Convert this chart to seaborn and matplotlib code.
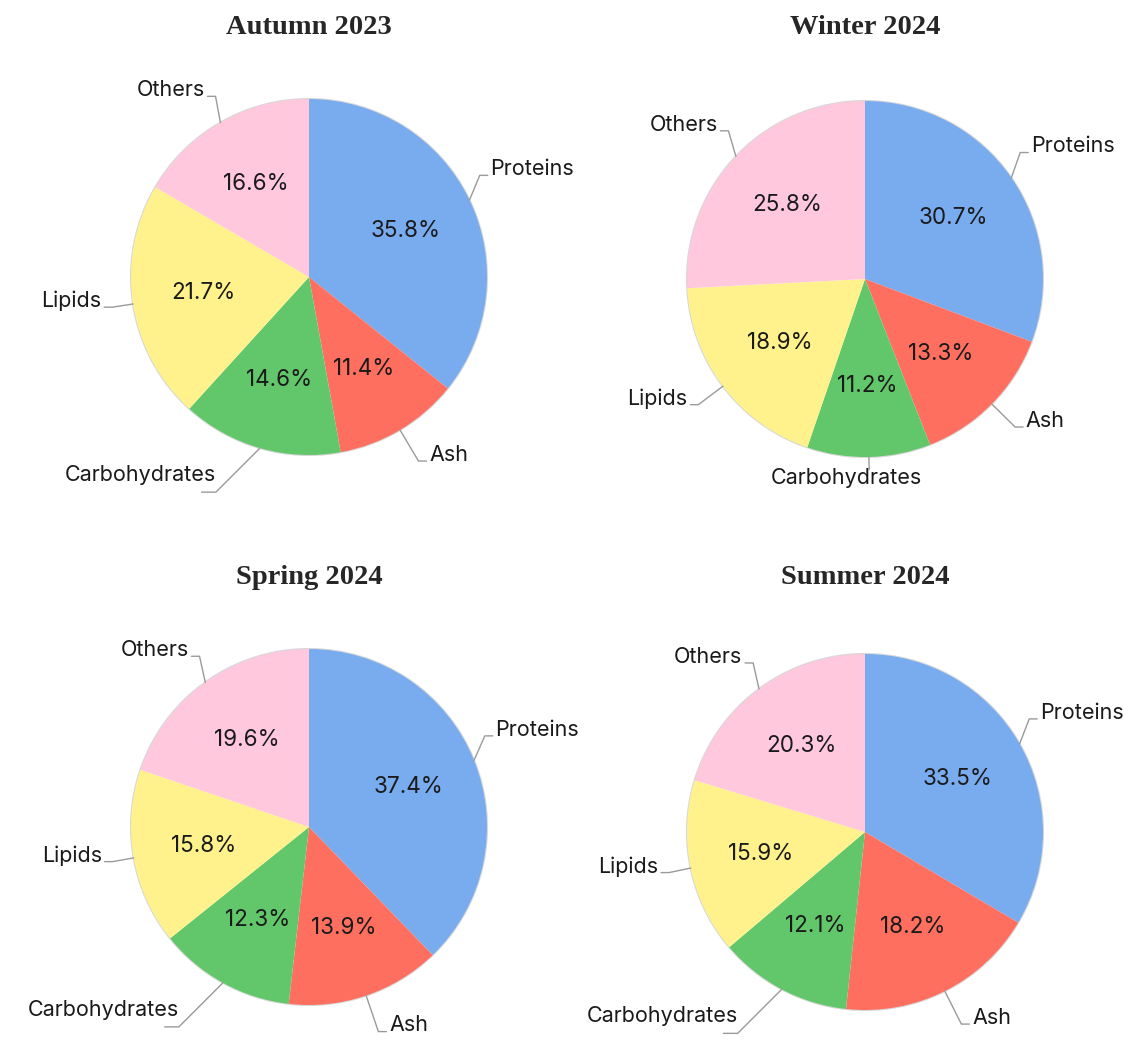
import numpy as np
import matplotlib
matplotlib.use("Agg")
import matplotlib.pyplot as plt
import seaborn as sns

# данные
categories = ["Proteins", "Ash", "Carbohydrates", "Lipids", "Others"]
seasons = ["Autumn 2023", "Winter 2024", "Spring 2024", "Summer 2024"]
autumn_2023 = [35.8, 11.4, 14.6, 21.7, 16.6]
winter_2024 = [30.7, 13.3, 11.2, 18.9, 25.8]
spring_2024 = [37.4, 13.9, 12.3, 15.8, 19.6]
summer_2024 = [33.5, 18.2, 12.1, 15.9, 20.3]
season_values = [autumn_2023, winter_2024, spring_2024, summer_2024]

colors = ["#79acee", "#ff6f60", "#62c76a", "#fff28d", "#ffc8dc"]

sns.set_theme(style="white")
plt.rcParams["font.family"] = ["Inter", "DejaVu Sans"]

W, H = 1123, 1040
fig = plt.figure(figsize=(W / 100, H / 100), dpi=100)

R = 178  # радиус пирога в пикселях
LIM = 1.55
centers = [(309, 277), (865, 279), (309, 827), (865, 832)]
title_y = [27, 27, 578, 578]
LINE = dict(color="#9a9a9a", lw=1)
LBL = dict(fontsize=15.5, color="#1a1a1a")


def draw_pie(ax, values):
    vals_iter = iter(values)
    wedges, _, autotexts = ax.pie(
        values, colors=colors, startangle=90, counterclock=False,
        autopct=lambda p: f"{next(vals_iter):.1f}%", pctdistance=0.6,
        wedgeprops=dict(edgecolor="none"),
        textprops=dict(fontsize=16.2, color="#1a1a1a"),
    )
    # лёгкая тень по краю
    ax.add_patch(plt.Circle((0, 0), 1.0, fill=False, ec="#d8d8d8", lw=1.5, zorder=0))

    for w, name in zip(wedges, categories):
        mid = ((w.theta1 + w.theta2) / 2) % 360
        ang = np.deg2rad(mid)
        c, s = np.cos(ang), np.sin(ang)
        x0, y0 = c, s
        if abs(c) < 0.12:
            # почти вертикально вниз: подпись под линией
            x1, y1 = c * 1.07, s * 1.07
            ax.plot([x0, x1], [y0, y1], **LINE)
            ax.text(x1 - 0.13, y1 + 0.01, name, ha="center", va="top", **LBL)
            continue
        sgn = 1 if c > 0 else -1
        if s > 0:
            # верхние подписи: выноска круче радиуса
            d = np.deg2rad(mid + 0.65 * (90 - mid))
            x1, y1 = x0 + 0.15 * np.cos(d), y0 + 0.15 * np.sin(d)
        elif c < 0 and s < -0.75:
            # нижние левые: диагональ 45 градусов, подпись над линией
            d = np.deg2rad(225)
            x1, y1 = x0 + 0.35 * np.cos(d), y0 + 0.35 * np.sin(d)
            x2 = x1 - 0.08
            ax.plot([x0, x1, x2], [y0, y1, y1], **LINE)
            ax.text(x1, y1 + 0.095, name, ha="right", va="center", **LBL)
            continue
        else:
            r_elb = 1.1 + 0.12 * max(0.0, -s)
            x1, y1 = c * r_elb, s * r_elb
        x2 = x1 + sgn * 0.045
        ax.plot([x0, x1, x2], [y0, y1, y1], **LINE)
        ax.text(x2 + sgn * 0.015, y1 + 0.035, name, ha="left" if sgn > 0 else "right",
                va="center", **LBL)

    ax.set_xlim(-LIM, LIM)
    ax.set_ylim(-LIM, LIM)
    ax.set_aspect("equal")
    ax.axis("off")


for (cx, cy), ty, vals, title in zip(centers, title_y, season_values, seasons):
    half = LIM * R
    ax = fig.add_axes([(cx - half) / W, (H - cy - half) / H, 2 * half / W, 2 * half / H])
    draw_pie(ax, vals)
    fig.text(cx / W, 1 - ty / H, title, ha="center", va="center", fontsize=20.5,
             fontweight="bold", family=["Liberation Serif", "DejaVu Serif"])

fig.savefig("out.png", dpi=100, facecolor="white")
plt.close(fig)
